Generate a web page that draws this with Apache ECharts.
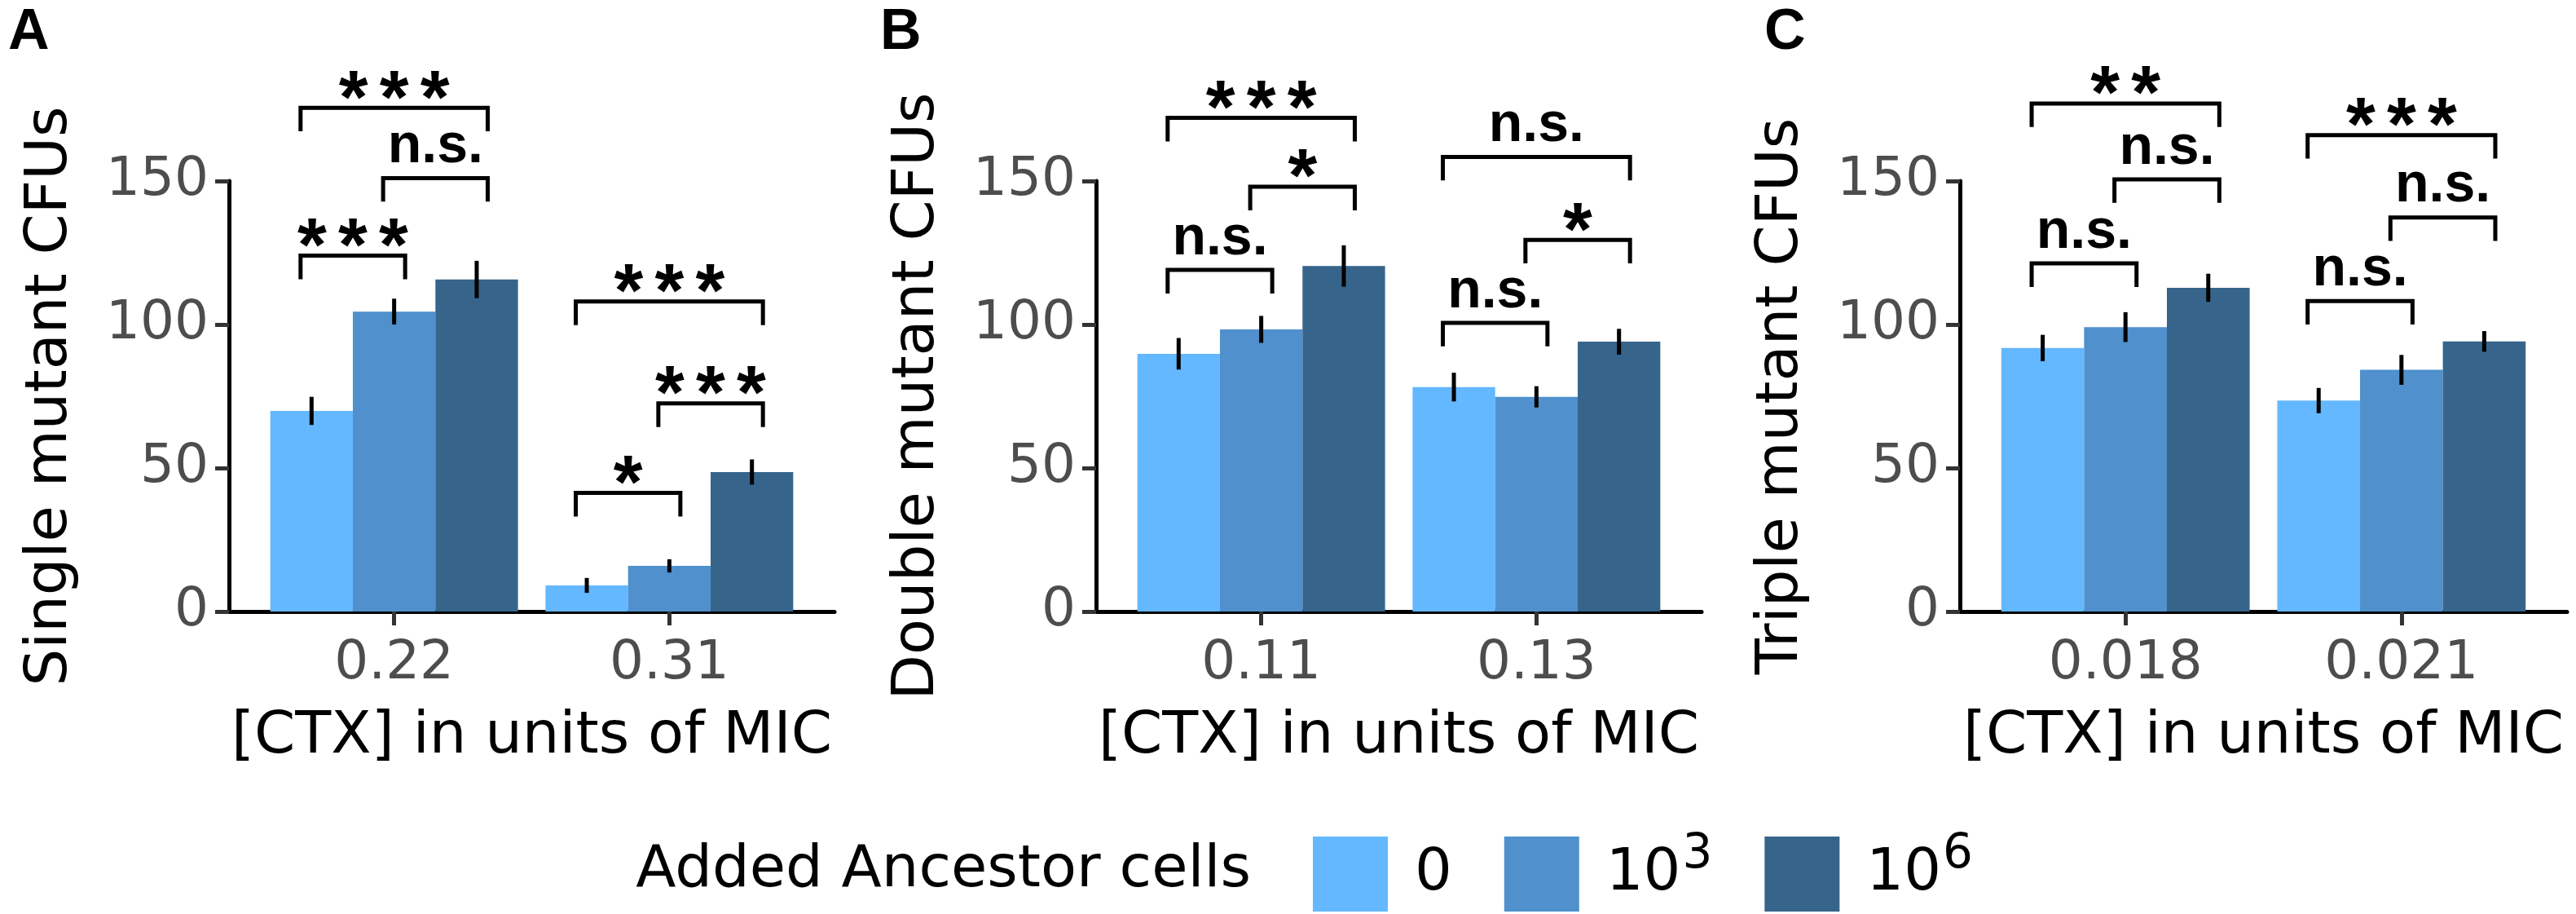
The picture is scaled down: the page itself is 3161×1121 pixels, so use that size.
<!DOCTYPE html>
<html>
<head>
<meta charset="utf-8">
<script src="https://cdn.jsdelivr.net/npm/echarts@6/dist/echarts.min.js"></script>
<style>
  html, body { margin: 0; padding: 0; background: #fff; }
  #chartDiv { width: 3161px; height: 1121px; }
</style>
</head>
<body>
<div id="chartDiv"></div>
<script>
// 数据集
const ancestorLevels = ['0', '10^3', '10^6'];
const barColors = ['#63B8FF', '#4F90CD', '#36648B'];

const singleCtx = ['0.22', '0.31'];
const singleMean = [[69.9, 9.1], [104.5, 15.9], [115.7, 48.6]];
const singleErr = [[4.9, 2.6], [4.5, 2.3], [6.5, 4.4]];
// [group, bar from, bar to, height, label]
const singleSig = [
	[1, 0, 2, 175.5, '***'], [1, 1, 2, 151, 'n.s.'], [1, 0, 1, 124, '***'],
	[2, 0, 2, 108, '***'], [2, 1, 2, 72.5, '***'], [2, 0, 1, 41.3, '*']
];

const doubleCtx = ['0.11', '0.13'];
const doubleMean = [[89.8, 78.2], [98.3, 74.8], [120.4, 94]];
const doubleErr = [[5.5, 5], [4.7, 3.7], [7.2, 4.5]];
const doubleSig = [
	[1, 0, 2, 172, '***'], [1, 1, 2, 148, '*'], [1, 0, 1, 119, 'n.s.'],
	[2, 0, 2, 158.4, 'n.s.'], [2, 1, 2, 129.5, '*'], [2, 0, 1, 100.6, 'n.s.']
];

const tripleCtx = ['0.018', '0.021'];
const tripleMean = [[91.8, 73.5], [99.1, 84.2], [112.8, 94.1]];
const tripleErr = [[4.6, 4.4], [5.2, 5.2], [4.9, 3.6]];
const tripleSig = [
	[1, 0, 2, 177, '**'], [1, 1, 2, 150.6, 'n.s.'], [1, 0, 1, 121.3, 'n.s.'],
	[2, 0, 2, 166, '***'], [2, 1, 2, 137.3, 'n.s.'], [2, 0, 1, 108.2, 'n.s.']
];

const yTicks = [0, 50, 100, 150];

let panels = [
	{letter: 'A', yName: 'Single mutant CFUs', ctx: singleCtx, mean: singleMean, err: singleErr, sig: singleSig, left: 281, width: 743, letterX: 10},
	{letter: 'B', yName: 'Double mutant CFUs', ctx: doubleCtx, mean: doubleMean, err: doubleErr, sig: doubleSig, left: 1345, width: 743, letterX: 1080},
	{letter: 'C', yName: 'Triple mutant CFUs', ctx: tripleCtx, mean: tripleMean, err: tripleErr, sig: tripleSig, left: 2405, width: 745, letterX: 2165}
];

// 每组三根柱子，dodge 宽度 0.9
const barStep = 0.9 / ancestorLevels.length;
const barOffset = ancestorLevels.map((d, k) => (k - 1) * barStep);
const bracketOut = 0.04;
const tipLen = 8.2;
const starGap = 50;

const axisFont = 'DejaVu Sans, sans-serif';
const markFont = 'Liberation Sans, Arial, sans-serif';
const legendFont = 'DejaVu Sans, sans-serif';

// 初始化图表
let myChart = echarts.init(document.getElementById('chartDiv'));

let option = {
	backgroundColor: '#fff',
	animation: false,
	grid: [],
	xAxis: [],
	yAxis: [],
	series: [],
	legend: {
		data: ancestorLevels,
		left: 1611,
		top: 1020,
		padding: 0,
		icon: 'rect',
		itemWidth: 92,
		itemHeight: 92,
		itemGap: 64,
		selectedMode: false,
		formatter(name) {
			if (name.indexOf('^') > 0) {
				let p = name.split('^');
				return p[0] + '{sup|' + p[1] + '}';
			}
			return name;
		},
		textStyle: {
			fontFamily: legendFont,
			fontSize: 72,
			color: '#000',
			padding: [0, 0, 0, 28],
			rich: {
				sup: {
					fontFamily: legendFont,
					fontSize: 58,
					color: '#000',
					padding: [0, 0, 46, 2]
				}
			}
		}
	},
	graphic: [
		{
			type: 'text',
			x: 1535,
			y: 1068,
			style: {
				text: 'Added Ancestor cells',
				align: 'right',
				verticalAlign: 'middle',
				fontFamily: legendFont,
				fontSize: 72,
				fill: '#000'
			}
		}
	]
};

panels.forEach(function (p, i) {
	option.grid.push({left: p.left, width: p.width, top: 222, height: 528, containLabel: false});
	option.xAxis.push({
		type: 'value',
		gridIndex: i,
		min: 0.4,
		max: 2.6,
		name: '[CTX] in units of MIC',
		nameLocation: 'middle',
		nameGap: 118,
		nameTextStyle: {fontFamily: axisFont, fontSize: 72, color: '#000'},
		axisLine: {show: true, onZero: false, lineStyle: {color: '#000', width: 5}},
		axisTick: {show: true, length: 17, customValues: [1, 2], lineStyle: {color: '#333', width: 5}},
		axisLabel: {
			show: true,
			margin: 32,
			customValues: [1, 2],
			fontFamily: axisFont,
			fontSize: 66,
			color: '#4D4D4D',
			formatter: (v) => p.ctx[Math.round(v) - 1]
		},
		splitLine: {show: false}
	});
	option.yAxis.push({
		type: 'value',
		gridIndex: i,
		min: yTicks[0],
		max: yTicks[yTicks.length - 1],
		interval: 50,
		name: p.yName,
		nameLocation: 'middle',
		nameRotate: 90,
		nameGap: 183,
		nameTextStyle: {fontFamily: axisFont, fontSize: 72, color: '#000'},
		axisLine: {show: true, lineStyle: {color: '#000', width: 5}},
		axisTick: {show: true, length: 17, lineStyle: {color: '#333', width: 5}},
		axisLabel: {margin: 25, fontFamily: axisFont, fontSize: 66, color: '#4D4D4D'},
		splitLine: {show: false}
	});

	// 柱子
	ancestorLevels.forEach(function (lvl, k) {
		option.series.push({
			type: 'bar',
			name: lvl,
			xAxisIndex: i,
			yAxisIndex: i,
			barGap: '0%',
			barCategoryGap: '10%',
			itemStyle: {color: barColors[k]},
			data: p.mean[k].map((v, g) => [g + 1, v])
		});
	});

	// 误差线
	let errData = [];
	ancestorLevels.forEach(function (lvl, k) {
		p.mean[k].forEach(function (v, g) {
			errData.push([g + 1, k, v - p.err[k][g], v + p.err[k][g]]);
		});
	});
	option.series.push({
		type: 'custom',
		xAxisIndex: i,
		yAxisIndex: i,
		z: 3,
		clip: false,
		data: errData,
		renderItem(params, api) {
			let x = api.value(0) + barOffset[api.value(1)];
			let p1 = api.coord([x, api.value(2)]);
			let p2 = api.coord([x, api.value(3)]);
			return {
				type: 'line',
				shape: {x1: p1[0], y1: p1[1], x2: p2[0], y2: p2[1]},
				style: {stroke: '#000', lineWidth: 5}
			};
		}
	});

	// 显著性标记
	option.series.push({
		type: 'custom',
		xAxisIndex: i,
		yAxisIndex: i,
		z: 4,
		clip: false,
		data: p.sig.map(s => s.slice(0, 4)),
		renderItem(params, api) {
			let s = p.sig[params.dataIndex];
			let xa = s[0] + barOffset[s[1]] - bracketOut;
			let xb = s[0] + barOffset[s[2]] + bracketOut;
			let a0 = api.coord([xa, s[3] - tipLen]);
			let a1 = api.coord([xa, s[3]]);
			let b1 = api.coord([xb, s[3]]);
			let b0 = api.coord([xb, s[3] - tipLen]);
			let cx = (a1[0] + b1[0]) / 2;
			let children = [{
				type: 'polyline',
				shape: {points: [a0, a1, b1, b0]},
				style: {stroke: '#000', lineWidth: 5, fill: null}
			}];
			if (s[4].indexOf('*') >= 0) {
				let n = s[4].length;
				for (let k = 0; k < n; k++) {
					children.push({
						type: 'text',
						style: {
							text: '*',
							x: cx + (k - (n - 1) / 2) * starGap,
							y: a1[1] - 7,
							align: 'center',
							verticalAlign: 'middle',
							fontFamily: markFont,
							fontWeight: 'bold',
							fontSize: 92,
							fill: '#000'
						}
					});
				}
			} else {
				children.push({
					type: 'text',
					style: {
						text: s[4],
						x: cx,
						y: a1[1] - 38,
						align: 'center',
						verticalAlign: 'middle',
						fontFamily: markFont,
						fontWeight: 'bold',
						fontSize: 68,
						fill: '#000'
					}
				});
			}
			return {type: 'group', children};
		}
	});

	// 面板字母
	option.graphic.push({
		type: 'text',
		x: p.letterX,
		y: 41,
		style: {
			text: p.letter,
			align: 'left',
			verticalAlign: 'middle',
			fontFamily: markFont,
			fontWeight: 'bold',
			fontSize: 70,
			fill: '#000'
		}
	});
});

myChart.setOption(option);
</script>
</body>
</html>
